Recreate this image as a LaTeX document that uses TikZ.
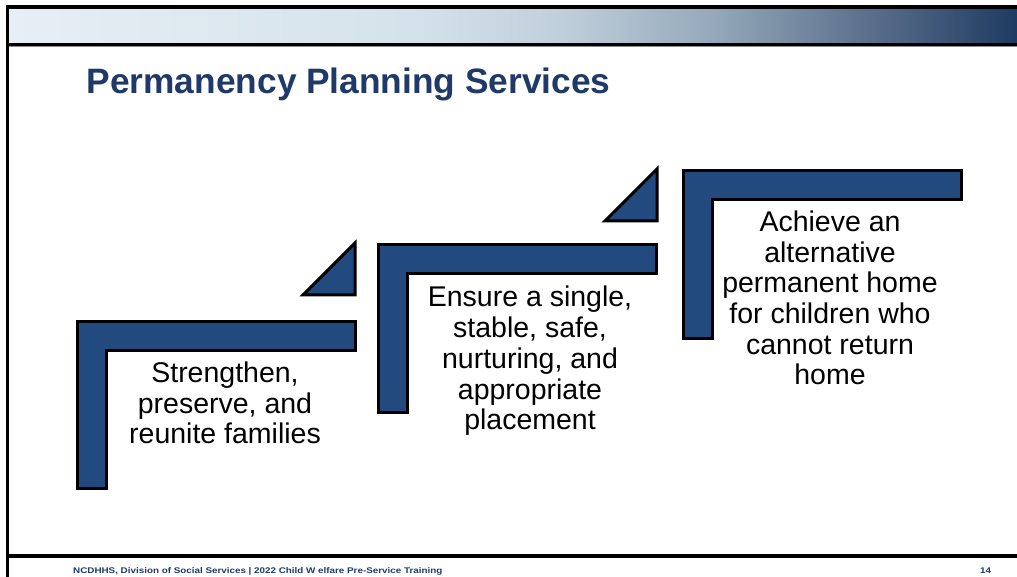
\documentclass[tikz,border=0pt]{standalone}
\usepackage{fontspec}
\setmainfont{Liberation Sans}
\definecolor{navy}{RGB}{31,58,104}
\definecolor{boxblue}{RGB}{35,74,126}
\pgfdeclarehorizontalshading{band}{100bp}{rgb(0bp)=(0.91,0.933,0.96); rgb(25bp)=(0.91,0.933,0.96); rgb(45bp)=(0.83,0.89,0.92); rgb(52.5bp)=(0.75,0.81,0.86); rgb(60bp)=(0.58,0.66,0.73); rgb(67.5bp)=(0.36,0.44,0.55); rgb(75bp)=(0.12,0.23,0.38); rgb(100bp)=(0.12,0.23,0.38)}
\tikzset{
  boxline/.style={draw=black, line width=3pt, fill=boxblue, line join=miter},
  stepshape/.pic={\draw[boxline] (0,0) -- (278,0) -- (278,29) -- (29,29) -- (29,167) -- (0,167) -- cycle;},
  stepcorner/.pic={\draw[boxline] (-52,0) -- (0,0) -- (0,-52) -- cycle;},
  steptext/.style={font=\fontsize{28.5}{30.7}\selectfont, align=center, inner sep=0pt, text=black},
  foot/.style={font=\fontsize{8.2}{9}\selectfont\bfseries, text=navy, inner sep=0pt, anchor=base west}
}
\begin{document}
\begin{tikzpicture}[x=1pt,y=-1pt]
\useasboundingbox (0,0) rectangle (1017,577);
\fill[white] (0,0) rectangle (1017,577);
% header band
\shade[shading=band] (9,9) rectangle (1017,43);
\fill[black] (6,5) rectangle (1017,9);
\fill[black] (9,43) rectangle (1017,46);
\fill[black!45] (9,46) rectangle (1017,47);
\fill[black] (6,5) rectangle (9,577);
\fill[black] (6,554) rectangle (1017,558);
% title
\node[font=\fontsize{35.3}{40}\selectfont\bfseries, text=navy, anchor=base west, inner sep=0pt] (title) at (86.5,94) {Permanency Planning Services};
% steps
\pic at (77,321) {stepshape};
\pic at (355,295) {stepcorner};
\pic at (378,245) {stepshape};
\pic at (657,221) {stepcorner};
\pic at (683,171) {stepshape};
\node[steptext] (t1) at (225,403) {Strengthen,\\preserve, and\\reunite families};
\node[steptext] (t2) at (530,361) {Ensure a single,\\stable, safe,\\nurturing, and\\appropriate\\placement};
\node[steptext] (t3) at (830,298) {Achieve an\\alternative\\permanent home\\for children who\\cannot return\\home};
% footer
\node[foot] (f1) at (73,573) {\scalebox{1.2}[1]{NCDHHS, Division of Social Services | 2022 Child W elfare Pre-Service Training}};
\node[foot] (f2) at (980,573) {\scalebox{1.2}[1]{14}};
\end{tikzpicture}
\end{document}
